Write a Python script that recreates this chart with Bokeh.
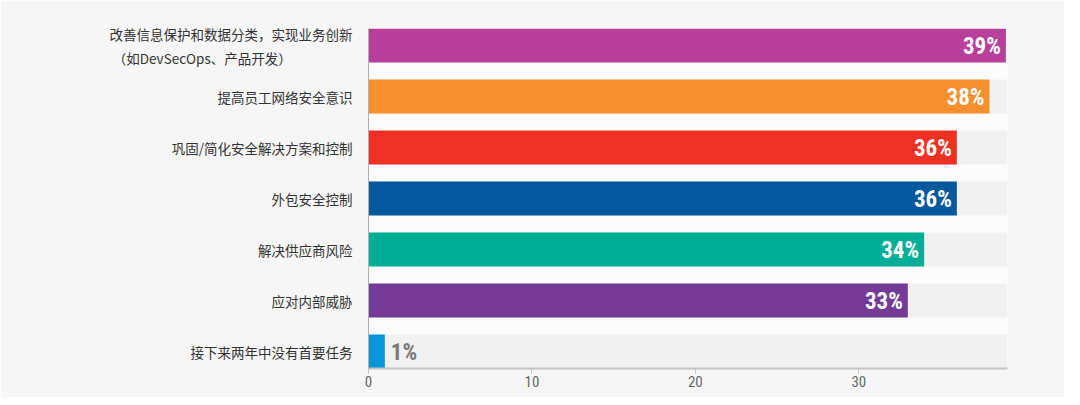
from bokeh.plotting import figure
from bokeh.models import ColumnDataSource, Range1d, FixedTicker
from bokeh.core.properties import value
from bokeh.embed import file_html
from bokeh.resources import INLINE

categories = [
    "改善信息保护和数据分类，实现业务创新\n（如DevSecOps、产品开发）　　　　　",
    "提高员工网络安全意识",
    "巩固/简化安全解决方案和控制",
    "外包安全控制",
    "解决供应商风险",
    "应对内部威胁",
    "接下来两年中没有首要任务",
]
values = [39, 38, 36, 36, 34, 33, 1]
colors = ["#b8409a", "#f68f2e", "#ee3124", "#04589d", "#00ad97", "#733b96", "#0a95d8"]
x_ticks = [0, 10, 20, 30]

n = len(categories)
ypos = [n - 1 - i for i in range(n)]
labels = [f"{v}%" for v in values]
inside = [v >= 5 for v in values]

xmax = 39.1
src = ColumnDataSource(dict(y=ypos, v=values, c=colors, lab=labels, track=[xmax] * n))
src_in = ColumnDataSource(dict(y=[y for y, k in zip(ypos, inside) if k],
                               v=[v for v, k in zip(values, inside) if k],
                               lab=[l for l, k in zip(labels, inside) if k]))
src_out = ColumnDataSource(dict(y=[y for y, k in zip(ypos, inside) if not k],
                                v=[v for v, k in zip(values, inside) if not k],
                                lab=[l for l, k in zip(labels, inside) if not k]))

p = figure(width=1064, height=397, output_backend="svg", toolbar_location=None,
           x_range=Range1d(0, xmax), y_range=Range1d(-1/3, n - 1 + 1/3),
           min_border_left=368, min_border_top=28, min_border_right=57, min_border_bottom=29)

p.background_fill_color = "#fcfcfc"
p.border_fill_color = "#f6f6f6"
p.outline_line_color = None
p.xgrid.grid_line_color = None
p.ygrid.grid_line_color = None

bar_h = 2/3
p.hbar(y="y", left=0, right="track", height=bar_h, source=src, fill_color="#f1f1f1", line_color=None)
p.hbar(y="y", left=0, right="v", height=bar_h, source=src, fill_color="c", line_color=None)

num_font = value("Roboto Condensed")
p.text(x="v", y="y", text="lab", source=src_in, text_align="right", text_baseline="middle",
       x_offset=-5, y_offset=1, text_font=num_font, text_font_style="bold",
       text_font_size="23px", text_color="white")
p.text(x="v", y="y", text="lab", source=src_out, text_align="left", text_baseline="middle",
       x_offset=6, y_offset=1, text_font=num_font, text_font_style="bold",
       text_font_size="23px", text_color="#7a7a7a")

# x axis
xa = p.xaxis[0]
xa.ticker = FixedTicker(ticks=x_ticks)
xa.axis_line_color = "#c4c4c4"
xa.axis_line_width = 2
xa.major_tick_line_color = "#c4c4c4"
xa.major_tick_in = 0
xa.major_tick_out = 5
xa.minor_tick_line_color = None
xa.major_label_text_font = "Roboto Condensed"
xa.major_label_text_font_size = "15px"
xa.major_label_text_color = "#666666"
xa.major_label_standoff = 2

# y axis
ya = p.yaxis[0]
ya.ticker = FixedTicker(ticks=ypos)
ya.major_label_overrides = {y: c for y, c in zip(ypos, categories)}
ya.axis_line_color = "#b0b0b0"
ya.axis_line_width = 1
ya.major_tick_line_color = None
ya.minor_tick_line_color = None
ya.major_label_text_font = "Noto Sans CJK SC"
ya.major_label_text_font_size = "13.5px"
ya.major_label_text_color = "#333333"
ya.major_label_standoff = 10

html = file_html(p, INLINE)
html = html.replace("<body>", '<body style="background:#f6f6f6">', 1)
open("out.html", "w").write(html)
